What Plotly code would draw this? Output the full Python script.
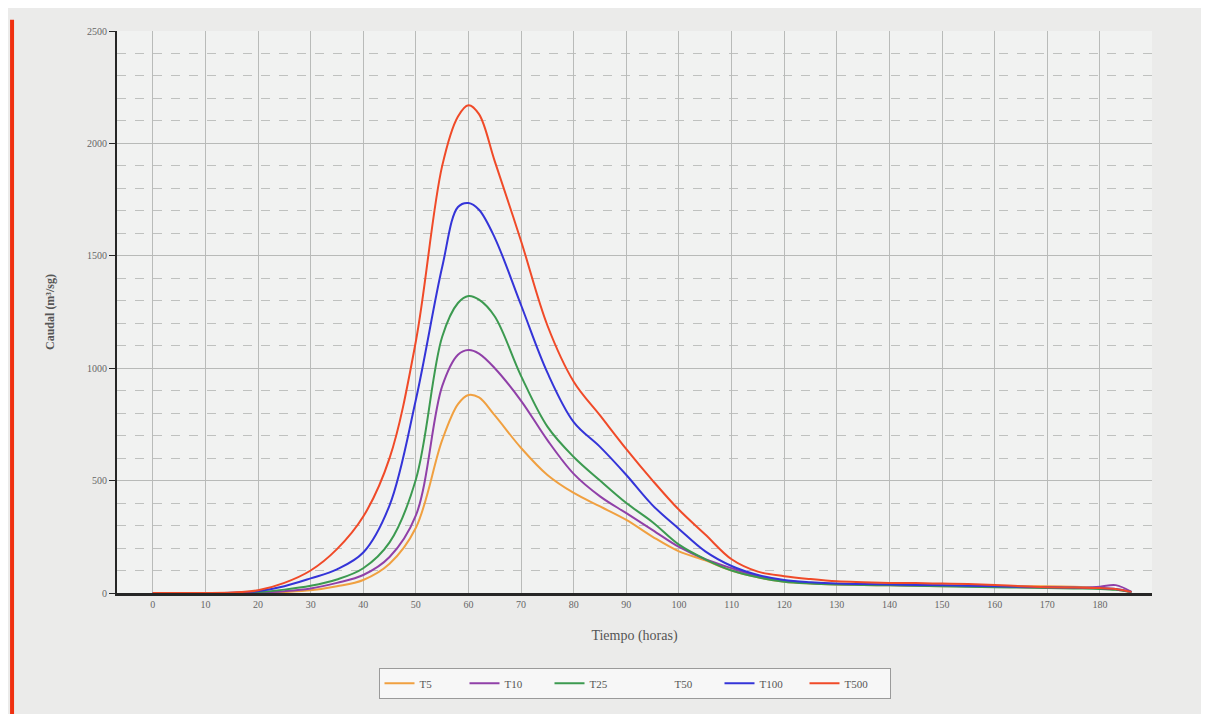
import plotly.graph_objects as go

# hydrograph data (hours, m3/s)
tiempo = [0, 5, 10, 15, 20, 25, 30, 35, 40, 45, 50, 55, 58, 60, 62, 65, 70, 75, 80, 85,
          90, 95, 100, 105, 110, 115, 120, 125, 130, 135, 140, 145, 150, 155, 160, 165,
          170, 175, 180, 183, 186]

t5 = [0, 0, 0, 0, 1, 5, 12, 30, 58, 130, 290, 680, 840, 881, 870, 790, 645, 525, 445, 385,
      325, 250, 185, 145, 100, 70, 50, 42, 38, 36, 34, 32, 30, 30, 30, 30, 30, 28, 22, 15, 3]
t10 = [0, 0, 0, 0, 2, 8, 20, 45, 80, 160, 345, 920, 1060, 1081, 1065, 1000, 855, 680, 530, 430,
       355, 280, 205, 150, 110, 75, 55, 45, 40, 38, 36, 34, 32, 30, 28, 26, 24, 22, 28, 35, 5]
t25 = [0, 0, 0, 0, 4, 15, 32, 60, 110, 225, 505, 1140, 1290, 1321, 1305, 1230, 965, 740, 605, 500,
       400, 315, 215, 150, 100, 70, 50, 42, 38, 36, 34, 32, 30, 28, 26, 24, 22, 20, 18, 14, 4]
t50 = [None]  # listed in the legend, no visible curve in the source
t100 = [0, 0, 0, 1, 8, 30, 65, 105, 180, 390, 860, 1450, 1717, 1735, 1705, 1580, 1280, 980, 760, 650,
        525, 390, 285, 185, 120, 80, 58, 48, 42, 40, 38, 36, 34, 32, 30, 28, 26, 24, 22, 18, 5]
t500 = [0, 0, 0, 2, 12, 45, 100, 195, 340, 600, 1120, 1900, 2120, 2170, 2130, 1920, 1565, 1190, 940, 790,
        640, 500, 370, 260, 150, 95, 75, 62, 52, 48, 45, 44, 42, 40, 36, 30, 26, 24, 22, 18, 5]

series = [
    ("T5", t5, "#f0a040"),
    ("T10", t10, "#9040a8"),
    ("T25", t25, "#3c9a50"),
    ("T50", t50, "rgba(255,255,255,0)"),
    ("T100", t100, "#3434d8"),
    ("T500", t500, "#f04a28"),
]

fig = go.Figure()
for name, vals, color in series:
    fig.add_trace(go.Scatter(
        x=tiempo[:len(vals)] if vals != [None] else [None], y=vals, name=name, mode="lines",
        line=dict(color=color, width=2), line_shape="spline", line_smoothing=1.0,
    ))

serif = "Liberation Serif"

fig.update_layout(
    width=1201,
    height=706,
    margin=dict(l=109, r=57, t=23, b=121),
    paper_bgcolor="#ebebea",
    plot_bgcolor="#f1f2f1",
    font=dict(family=serif, color="#555555", size=11),
    showlegend=True,
    legend=dict(
        orientation="h", x=0.5, xanchor="center", y=-0.133, yanchor="top",
        bgcolor="#f7f7f7", bordercolor="#9a9a9a", borderwidth=1,
        font=dict(family=serif, size=11, color="#555555"),
        itemwidth=30, entrywidth=40,
    ),
    xaxis=dict(
        range=[-6.8, 189.9],
        tickvals=list(range(0, 181, 10)),
        showgrid=True, gridcolor="#b9bbb9", gridwidth=1,
        zeroline=False,
        showline=True, linecolor="#262626", linewidth=2.5,
        ticks="",
        tickfont=dict(family=serif, size=10, color="#666666"),
        title=dict(text="Tiempo (horas)", standoff=22,
                   font=dict(family=serif, size=14, color="#555555")),
    ),
    yaxis=dict(
        range=[0, 2500],
        tickvals=[0, 500, 1000, 1500, 2000, 2500],
        showgrid=True, gridcolor="#b8bab8", gridwidth=1,
        minor=dict(dtick=100, showgrid=True, gridcolor="#bfc1bf", griddash="dash"),
        zeroline=False,
        showline=True, linecolor="#262626", linewidth=2,
        ticks="outside", ticklen=6, tickcolor="#262626",
        tickfont=dict(family=serif, size=10, color="#666666"),
        title=dict(text="<b>Caudal (m³/sg)</b>", standoff=30,
                   font=dict(family=serif, size=12, color="#555555")),
    ),
)

# red edge stripe of the scanned page
fig.add_shape(type="line", xref="paper", yref="paper",
              x0=-0.1014, x1=-0.1014, y0=1.02, y1=-0.216,
              line=dict(color="#f03010", width=4))

fig.write_html("out.html")
